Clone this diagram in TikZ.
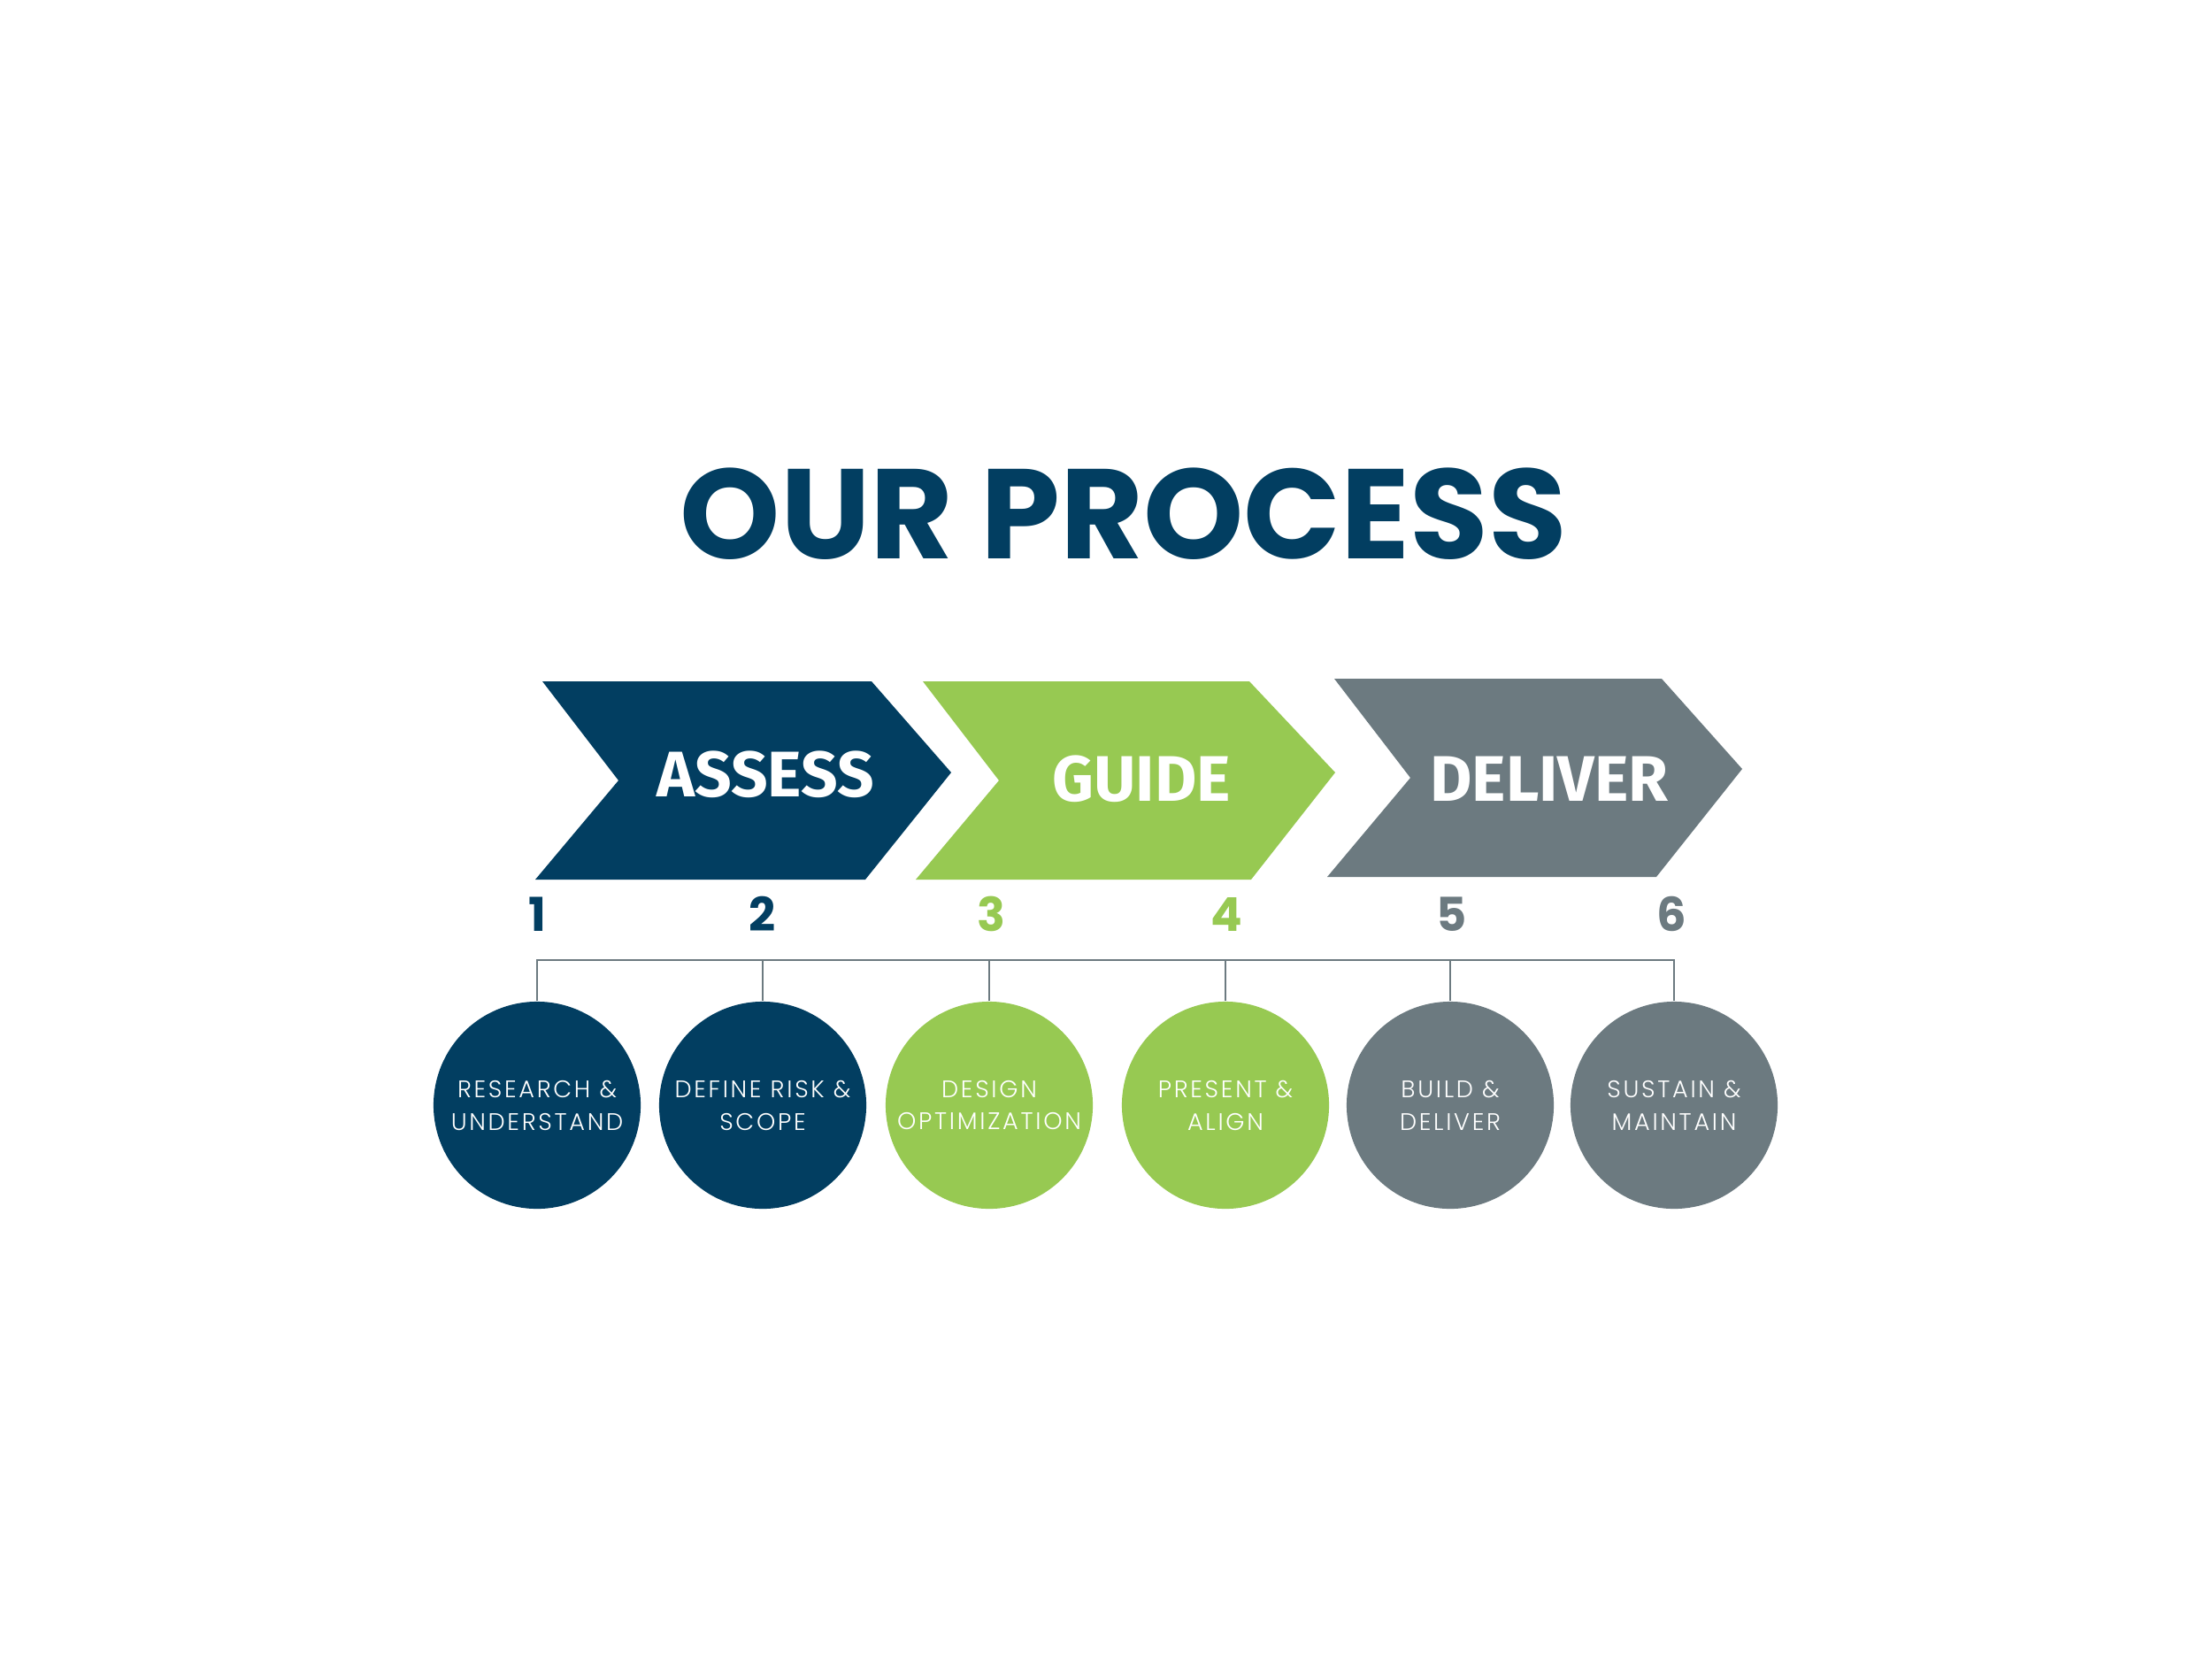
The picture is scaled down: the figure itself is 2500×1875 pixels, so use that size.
\documentclass[tikz,border=0pt]{standalone}
\usepackage{fontspec}
\usepackage{xcolor}
\usetikzlibrary{positioning}
\setmainfont{Poppins}
\newfontfamily\chevfont{Fira Sans}
\newfontfamily\stagefont[LetterSpace=10]{Poppins Light}

\definecolor{navy}{HTML}{023E61}
\definecolor{leaf}{HTML}{97C952}
\definecolor{slate}{HTML}{6C7A80}

\begin{document}
\begin{tikzpicture}[x=0.01cm,y=-0.01cm]
\tikzstyle{bubble} = [
	shape=circle,
	minimum size=2.34cm, %diameter of the stage circles
	inner sep=0pt,
	text=white,
	align=center,
	font=\stagefont\fontsize{7.7pt}{10.5pt}\selectfont
];
\tikzstyle{num} = [
	inner sep=0pt,
	font=\bfseries\fontsize{15pt}{15pt}\selectfont
];
\tikzstyle{chevtext} = [
	inner sep=0pt,
	text=white,
	font=\chevfont\bfseries\fontsize{20.7pt}{20.7pt}\selectfont
];

\useasboundingbox[fill=white] (0,0) rectangle (2500,1875);

%title
\node[text=navy, inner sep=0pt, font=\bfseries\fontsize{41pt}{41pt}\selectfont]
	(title) at (1270,581) {OUR PROCESS};

%chevrons
\fill[navy] (613,770) -- (985,770) -- (1075,873) -- (978,994) -- (605,994) -- (699,882) -- cycle;
\fill[leaf] (1043,770) -- (1412,770) -- (1509,873) -- (1414,994) -- (1035,994) -- (1129,882) -- cycle;
\fill[slate] (1508,767) -- (1878,767) -- (1969,869) -- (1872,991) -- (1500,991) -- (1594,879) -- cycle;
\node[chevtext](Assess) at (865,875) {ASSESS};
\node[chevtext](Guide) at (1290,880) {GUIDE};
\node[chevtext](Deliver) at (1751,880) {DELIVER};

%numbers
\node[num, text=navy](n1) at (607,1033) {1};
\node[num, text=navy](n2) at (862,1033) {2};
\node[num, text=leaf](n3) at (1120,1033) {3};
\node[num, text=leaf](n4) at (1386,1033) {4};
\node[num, text=slate](n5) at (1641,1033) {5};
\node[num, text=slate](n6) at (1889,1033) {6};

%stages
\node[bubble, fill=navy](c1) at (607,1249) {RESEARCH \&\\UNDERSTAND};
\node[bubble, fill=navy](c2) at (862,1249) {DEFINE RISK \&\\SCOPE};
\node[bubble, fill=leaf](c3) at (1118,1249) {DESIGN\\OPTIMIZATION};
\node[bubble, fill=leaf](c4) at (1385,1249) {PRESENT \&\\ALIGN};
\node[bubble, fill=slate](c5) at (1639,1249) {BUILD \&\\DELIVER};
\node[bubble, fill=slate](c6) at (1892,1249) {SUSTAIN \&\\MAINTAIN};

%connectors
\coordinate (j1) at (607,1085);
\draw[slate, line width=0.8pt]
	(c1.north) -- (j1) -| (c6.north)
	(c2.north) -- (c2.north |- j1)
	(c3.north) -- (c3.north |- j1)
	(c4.north) -- (c4.north |- j1)
	(c5.north) -- (c5.north |- j1)
;
\end{tikzpicture}
\end{document}
